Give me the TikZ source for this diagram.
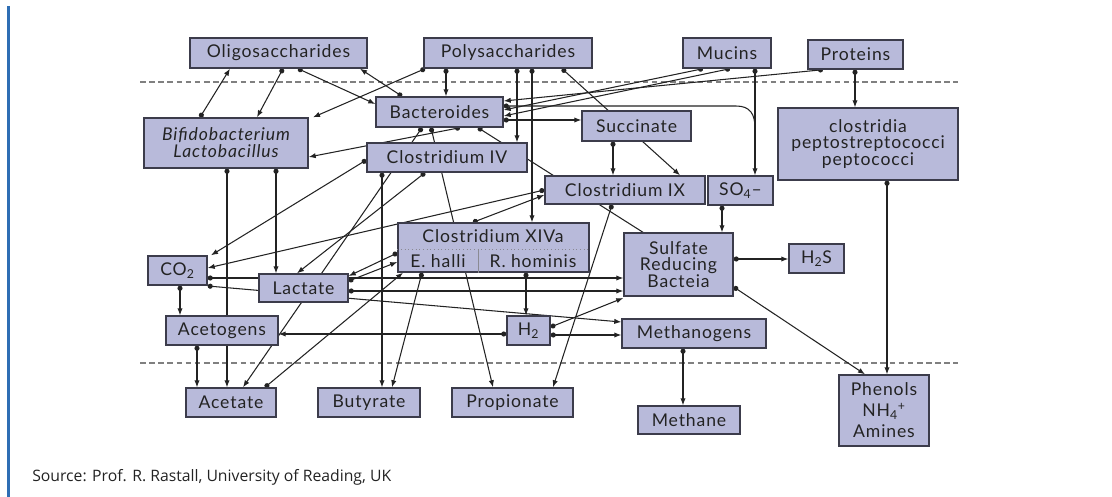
\documentclass[tikz,border=0pt]{standalone}
\usepackage{fontspec}
\setmainfont{Lato}[LetterSpace=5]
\newfontfamily\srcfont{Open Sans}
\usetikzlibrary{arrows.meta}
\pgfdeclarelayer{bg}
\pgfsetlayers{bg,main}
\definecolor{boxfill}{RGB}{184,186,218}
\definecolor{boxline}{RGB}{60,60,75}
\definecolor{ink}{RGB}{35,35,35}
\definecolor{barblue}{RGB}{46,110,180}
\tikzset{
 box/.style={draw=boxline, fill=boxfill, line width=1pt, inner sep=0pt, align=center, text=ink, font=\fontsize{12.5}{12}\selectfont},
 lbl/.style={inner sep=0pt, text=ink, font=\fontsize{12.5}{12}\selectfont},
 dc/.style={draw=ink, line width=0.75pt, {Circle[length=3.6pt]}-{Latex[length=5pt,width=3.8pt]}},
 dl/.style={draw=ink, line width=0.75pt, {Circle[length=3.6pt]}-},
 sepline/.style={draw=gray, line width=0.8pt, dash pattern=on 4pt off 2.5pt}
}
\newcommand\bx[6]{\node[box, minimum width={(#4-#2)*0.025cm}, minimum height={(#5-#3)*0.025cm}] (#1) at ({(#2+#4)/2},{(#3+#5)/2}) {#6};}
\begin{document}
\begin{tikzpicture}[x=0.025cm,y=-0.025cm]
\useasboundingbox (0,0) rectangle (1112,497);
\fill[barblue] (7,6) rectangle (10,497);
\coordinate (dl1) at (140,82); \coordinate (dr1) at (958,82);
\coordinate (dl2) at (140,363); \coordinate (dr2) at (958,363);
% boxes
\bx{oligo}{190}{38}{367}{68}{Oligosaccharides}
\bx{poly}{424}{38}{592}{68}{Polysaccharides}
\bx{mucins}{683}{38}{771}{68}{Mucins}
\bx{proteins}{808}{40}{903}{69}{Proteins}
\bx{bact}{376}{97}{503}{127}{Bacteroides}
\bx{succ}{582}{111}{691}{141}{Succinate}
\bx{bifido}{144}{118}{308}{168}{\itshape Bifidobacterium\\\itshape Lactobacillus}
\bx{civ}{367}{143}{527}{172}{Clostridium IV}
\bx{cix}{545}{176}{705}{204}{Clostridium IX}
\bx{so4}{708}{176}{773}{205}{SO\textsubscript{4}–}
\bx{clos}{778}{108}{958}{180}{clostridia\\peptostreptococci\\peptococci}
\bx{xiva}{398}{223}{589}{272}{}
\bx{srb}{624}{233}{733}{296}{Sulfate\\Reducing\\Bacteia}
\bx{h2s}{789}{244}{844}{273}{H\textsubscript{2}S}
\bx{co2}{148}{256}{207}{285}{CO\textsubscript{2}}
\bx{lact}{259}{274}{348}{302}{Lactate}
\bx{acetog}{166}{316}{278}{345}{Acetogens}
\bx{h2}{507}{316}{550}{345}{H\textsubscript{2}}
\bx{meth}{622}{319}{766}{348}{Methanogens}
\bx{acetate}{186}{388}{276}{417}{Acetate}
\bx{buty}{318}{388}{420}{417}{Butyrate}
\bx{prop}{452}{388}{573}{417}{Propionate}
\bx{methane}{638}{406}{740}{434}{Methane}
\bx{phen}{839}{375}{929}{446}{Phenols\\[3pt]NH\textsubscript{4}\textsuperscript{+}\\[3pt]Amines}
% XIVa inner parts
\draw[boxline!60, line width=0.6pt, dotted] (xiva.west |- 0,249) -- (xiva.east |- 0,249);
\draw[boxline!60, line width=0.6pt] (478,249) -- (xiva.south -| 478,0);
\node[lbl] (xivat) at (493,236) {Clostridium XIVa};
\node[lbl] (ehal) at (438,261) {E. halli};
\node[lbl] (rhom) at (533,261) {R. hominis};
% source
\node[anchor=base west, inner sep=0pt, text=ink, font=\srcfont\fontsize{11.2}{13}\selectfont] (src) at (32,482) {Source: Prof. R. Rastall, University of Reading, UK};
\begin{pgfonlayer}{bg}
\draw[sepline] (dl1) -- (dr1);
\draw[sepline] (dl2) -- (dr2);
\draw[dc] (bifido.north -| 200,0) -- (oligo.south -| 230,0);
\draw[dc] (oligo.south -| 283,0) -- (bifido.north -| 257,0);
\draw[dc] (oligo.south -| 298,0) -- (bact.west |- 0,104);
\draw[dc] (bact.north -| 402,0) -- (oligo.south -| 360,0);
\draw[dc] (poly.south -| 425,0) -- (bifido.north -| 313,0);
\draw[dc] (poly.south -| 446,0) -- (bact.north -| 446,0);
\draw[dc] (poly.south -| 517,0) -- (civ.north -| 517,0);
\draw[dc] (poly.south -| 532,0) -- (xiva.north -| 532,0);
\draw[dc] (poly.south -| 562,0) -- (cix.north -| 680,0);
\draw[dc] (succ.south -| 613,0) -- (cix.north -| 613,0);
\draw[dc] (proteins.south -| 823,0) -- (bact.east |- 0,101);
\draw[dc] (mucins.south -| 703,0) -- (bact.east |- 0,110);
\draw[dc] (mucins.south -| 730,0) -- (bact.east |- 0,116);
\draw[dc] (bact.east |- 0,120) -- (succ.west |- 0,120);
\coordinate (merge) at (755,128);
\draw[dl] (bact.east |- 0,106) -- (736,106) .. controls (750,106) and (755,114) .. (merge);
\draw[dc] (mucins.south -| 755,0) -- (so4.north -| 755,0);
\draw[dc] (proteins.south -| 855,0) -- (clos.north -| 855,0);
\draw[dc] (clos.south -| 887,0) -- (phen.north -| 887,0);
\draw[dc] (srb.east |- 0,287) -- (phen.north -| 865,0);
\draw[dc] (srb.east |- 0,259) -- (h2s.west |- 0,259);
\draw[dc] (so4.south -| 722,0) -- (srb.north -| 722,0);
\draw[dc] (cix.south -| 612,0) -- (prop.north -| 553,0);
\draw[dl] (bact.south -| 478,0) -- (srb.north -| 643,0);
\draw[dc] (bact.south -| 422,0) -- (acetate.north -| 243,0);
\draw[dc] (bact.south -| 431,0) -- (prop.north -| 493,0);
\draw[dc] (bact.south -| 460,0) -- (bifido.east |- 0,157);
\draw[dc] (civ.west |- 0,160) -- (co2.north -| 211,0);
\draw[dc] (civ.south -| 425,0) -- (lact.north -| 297,0);
\draw[dc] (civ.south -| 382,0) -- (buty.north -| 382,0);
\draw[dc] (cix.west |- 0,190) -- (co2.east |- 0,268);
\draw[dc] (xiva.north -| 473,0) -- (cix.west |- 0,195);
\draw[dc] (xiva.west |- 0,253) -- (lact.east |- 0,276);
\draw[dc] (lact.east |- 0,281) -- (xiva.west |- 0,262);
\draw[dc] (acetate.north -| 265,0) -- (xiva.south -| 403,0);
\draw[dc] (xiva.south -| 422,0) -- (buty.north -| 392,0);
\draw[dc] (xiva.south -| 526,0) -- (h2.north -| 526,0);
\draw[dc] (h2.west |- 0,334) -- (acetog.east |- 0,334);
\draw[dc] (h2.east |- 0,327) -- (srb.west |- 0,298);
\draw[dc] (h2.east |- 0,335) -- (meth.west |- 0,335);
\draw[dc] (meth.south -| 683,0) -- (methane.north -| 683,0);
\draw[dc] (co2.east |- 0,278) -- (srb.west |- 0,278);
\draw[dc] (lact.east |- 0,291) -- (srb.west |- 0,291);
\draw[dc] (co2.east |- 0,286) -- (meth.west |- 0,322);
\draw[dc] (co2.south -| 180,0) -- (acetog.north -| 180,0);
\draw[dc] (acetog.south -| 197,0) -- (acetate.north -| 197,0);
\draw[dc] (bifido.south -| 227,0) -- (acetate.north -| 227,0);
\draw[dc] (bifido.south -| 276,0) -- (lact.north -| 276,0);
\end{pgfonlayer}
\end{tikzpicture}
\end{document}
